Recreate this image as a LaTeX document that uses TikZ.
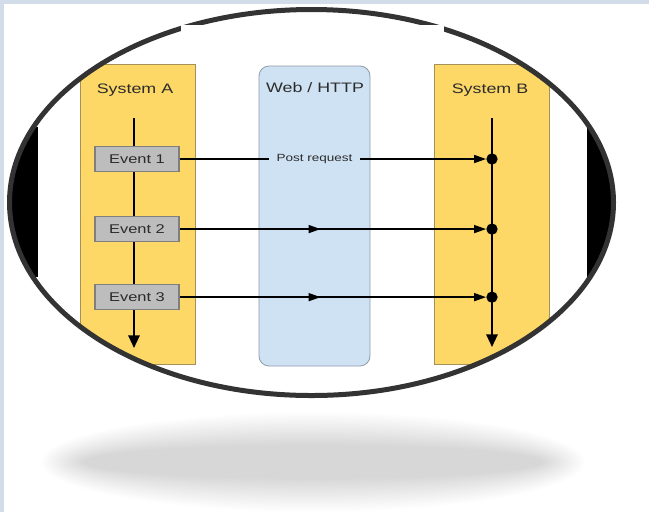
\documentclass[tikz,border=0pt]{standalone}
\usepackage{fontspec}
\setmainfont{Liberation Sans}[FakeStretch=1.3]
\usetikzlibrary{arrows.meta, positioning, decorations.markings}
\definecolor{framebg}{HTML}{D3DCE9}
\definecolor{laneyellow}{HTML}{FDD866}
\definecolor{laneedge}{HTML}{A39159}
\definecolor{webblue}{HTML}{CFE2F3}
\definecolor{webedge}{HTML}{8E9BA8}
\definecolor{eventgray}{HTML}{BDBDBD}
\definecolor{eventedge}{HTML}{7F7F7F}
\definecolor{inktext}{HTML}{2B2B2B}
\definecolor{ringgray}{HTML}{333333}
\tikzset{
    lane/.style={rectangle, draw=laneedge, line width=0.6pt, fill=laneyellow, minimum width=86.25pt, minimum height=225pt, inner sep=0pt},
    weblane/.style={lane, draw=webedge, fill=webblue, rounded corners=7.5pt, minimum width=83.25pt},
    lanelabel/.style={text=inktext, font=\fontsize{10.3}{12}\selectfont, inner sep=0pt},
    eventbox/.style={rectangle, draw=eventedge, line width=0.8pt, fill=eventgray, minimum width=63pt, minimum height=18.75pt, inner sep=0pt, text=inktext, font=\fontsize{9.5}{11}\selectfont},
    postlabel/.style={fill=webblue, inner xsep=5.5pt, inner ysep=1pt, text=inktext, font=\fontsize{7.8}{9}\selectfont},
    hitdot/.style={circle, fill=black, inner sep=0pt, minimum size=8.5pt},
    lifeline/.style={-{Triangle[length=9.5pt, width=8.5pt]}, line width=1.5pt, draw=black},
    flow/.style={line width=1.2pt, draw=black},
    flowarrow/.style={flow, -{Triangle[length=9pt, width=6pt]}},
    midarrow/.style={flowarrow, postaction={decorate}, decoration={markings, mark=at position #1 with {\arrow{Triangle[length=9pt, width=6pt]}}}}
}

\begin{document}
\begin{tikzpicture}[x=0.75pt, y=-0.75pt]
    \useasboundingbox (0,0) rectangle (649,512);
    \fill[white] (0,0) rectangle (649,512);
    \fill[framebg] (0,0) rectangle (649,4);
    \fill[framebg] (0,0) rectangle (4,512);
    % soft shadow under the ring
    \foreach \i in {0,...,39}
        \fill[black, opacity=0.0045] (313,462) ellipse [x radius={272-1.1*\i}, y radius={50-0.85*\i}];
    \begin{scope}
        \clip (311.5,202.5) ellipse [x radius=302, y radius=193];
        \fill[black] (0,127) rectangle (38,277);
        \fill[black] (587,128) rectangle (649,277);
        \node[lane] (laneA) at (137.5,214) {};
        \node[weblane] (web) at (314.5,216) {};
        \node[lane] (laneB) at (491.5,214.5) {};
        \node[lanelabel] (labA) at (135,90) {System A};
        \node[lanelabel] (labW) at (315,88) {Web / HTTP};
        \node[lanelabel] (labB) at (490,90) {System B};
        \coordinate (atop) at (134,118);
        \coordinate (abot) at (134,348);
        \coordinate (btop) at (492,118);
        \coordinate (bbot) at (492,347);
        \draw[lifeline] (atop) -- (abot);
        \draw[lifeline] (btop) -- (bbot);
        \node[eventbox] (e1) at (137,159) {Event 1};
        \node[eventbox, below=33pt of e1] (e2) {Event 2};
        \node[eventbox, below=31.5pt of e2] (e3) {Event 3};
        \node[hitdot] (d1) at (btop |- e1) {};
        \node[hitdot] (d2) at (btop |- e2) {};
        \node[hitdot] (d3) at (btop |- e3) {};
        \node[postlabel] (post) at (web |- e1) {Post request};
        \draw[flow] (e1) -- (post);
        \draw[flowarrow] (post) -- (d1);
        \draw[midarrow=0.46] (e2) -- (d2);
        \draw[midarrow=0.46] (e3) -- (d3);
    \end{scope}
    \draw[ringgray, line width=3.75pt] (311.5,202.5) ellipse [x radius=302, y radius=193];
    \fill[white] (181,25) rectangle (444,63);
\end{tikzpicture}
\end{document}
